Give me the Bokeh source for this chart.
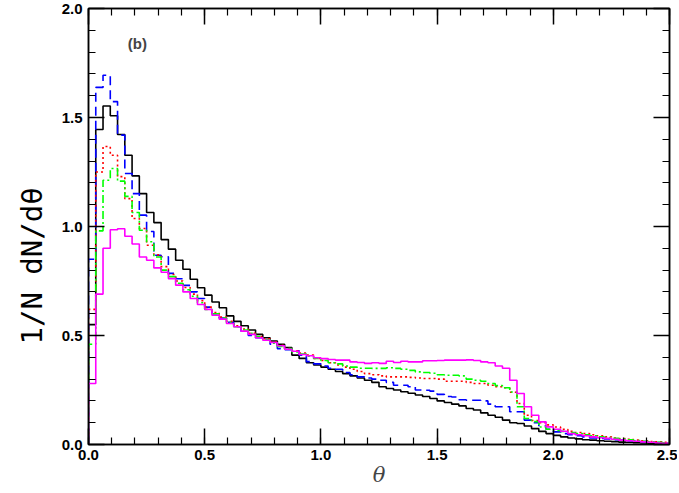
import numpy as np
from bokeh.plotting import figure
from bokeh.models import SingleIntervalTicker, LinearAxis, Label, Title, PrintfTickFormatter, CustomJSTickFormatter
from bokeh.embed import file_html
from bokeh.resources import INLINE

bin_width = 0.03125

black = [0.55, 1.445, 1.553, 1.508, 1.422, 1.327, 1.232, 1.151, 1.064, 1.018,
         0.94, 0.896, 0.845, 0.804, 0.758, 0.719, 0.685, 0.654, 0.627, 0.59,
         0.565, 0.545, 0.525, 0.505, 0.49, 0.475, 0.46, 0.445, 0.41, 0.395,
         0.375, 0.365, 0.355, 0.345, 0.335, 0.325, 0.315, 0.305, 0.295, 0.285,
         0.265, 0.257, 0.25, 0.242, 0.235, 0.227, 0.22, 0.211, 0.2, 0.193,
         0.185, 0.177, 0.165, 0.158, 0.145, 0.134, 0.125, 0.112, 0.1, 0.096,
         0.085, 0.073, 0.06, 0.05, 0.042, 0.035, 0.03, 0.026, 0.022, 0.02,
         0.017, 0.015, 0.013, 0.011, 0.01, 0.008, 0.007, 0.006, 0.005, 0.004]

blue = [0.85, 1.638, 1.694, 1.573, 1.419, 1.243, 1.151, 1.052, 0.977, 0.868,
        0.861, 0.785, 0.76, 0.73, 0.7, 0.67, 0.63, 0.6, 0.58, 0.56,
        0.54, 0.52, 0.5, 0.49, 0.48, 0.46, 0.44, 0.435, 0.43, 0.41,
        0.38, 0.37, 0.36, 0.35, 0.345, 0.33, 0.32, 0.31, 0.305, 0.3,
        0.295, 0.285, 0.272, 0.272, 0.265, 0.25, 0.249, 0.245, 0.23, 0.22,
        0.218, 0.205, 0.203, 0.203, 0.2, 0.185, 0.173, 0.173, 0.15, 0.15,
        0.112, 0.1, 0.086, 0.07, 0.058, 0.05, 0.045, 0.04, 0.035, 0.03,
        0.028, 0.025, 0.022, 0.02, 0.017, 0.015, 0.013, 0.011, 0.009, 0.007]

red = [0.62, 1.25, 1.367, 1.327, 1.229, 1.128, 1.037, 0.991, 0.914, 0.87,
       0.816, 0.78, 0.75, 0.72, 0.69, 0.66, 0.63, 0.605, 0.585, 0.565,
       0.545, 0.53, 0.51, 0.495, 0.485, 0.47, 0.455, 0.44, 0.43, 0.42,
       0.41, 0.395, 0.385, 0.375, 0.365, 0.355, 0.345, 0.335, 0.325, 0.32,
       0.315, 0.31, 0.31, 0.31, 0.308, 0.305, 0.303, 0.303, 0.3, 0.29,
       0.29, 0.29, 0.285, 0.28, 0.28, 0.272, 0.265, 0.26, 0.24, 0.188,
       0.134, 0.11, 0.1, 0.09, 0.08, 0.07, 0.06, 0.055, 0.05, 0.045,
       0.04, 0.035, 0.03, 0.027, 0.024, 0.02, 0.017, 0.014, 0.012, 0.01]

green = [0.46, 0.98, 1.212, 1.266, 1.208, 1.138, 1.064, 0.983, 0.93, 0.86,
         0.8, 0.77, 0.74, 0.71, 0.68, 0.65, 0.62, 0.6, 0.58, 0.56,
         0.54, 0.525, 0.51, 0.495, 0.48, 0.465, 0.45, 0.44, 0.425, 0.415,
         0.405, 0.395, 0.385, 0.375, 0.37, 0.36, 0.355, 0.35, 0.35, 0.349,
         0.349, 0.352, 0.349, 0.345, 0.34, 0.333, 0.33, 0.327, 0.32, 0.318,
         0.318, 0.315, 0.3, 0.295, 0.29, 0.28, 0.27, 0.26, 0.241, 0.173,
         0.119, 0.105, 0.08, 0.07, 0.065, 0.06, 0.055, 0.05, 0.045, 0.04,
         0.035, 0.032, 0.028, 0.025, 0.022, 0.018, 0.015, 0.012, 0.01, 0.008]

magenta = [0.28, 0.69, 0.90, 0.985, 0.99, 0.955, 0.92, 0.86, 0.845, 0.81,
           0.79, 0.761, 0.731, 0.70, 0.67, 0.642, 0.62, 0.593, 0.575, 0.555,
           0.54, 0.52, 0.505, 0.49, 0.478, 0.468, 0.453, 0.437, 0.428, 0.413,
           0.407, 0.398, 0.394, 0.39, 0.387, 0.387, 0.379, 0.376, 0.372, 0.375,
           0.372, 0.382, 0.376, 0.382, 0.379, 0.379, 0.384, 0.384, 0.385, 0.387,
           0.387, 0.387, 0.388, 0.385, 0.379, 0.375, 0.36, 0.35, 0.295, 0.234,
           0.173, 0.134, 0.104, 0.081, 0.07, 0.061, 0.05, 0.045, 0.04, 0.035,
           0.031, 0.028, 0.024, 0.02, 0.017, 0.015, 0.012, 0.01, 0.007, 0.005]


def step_xy(vals):
    edges = np.arange(len(vals) + 1) * bin_width
    xs = [0.0]
    ys = [0.0]
    for i, v in enumerate(vals):
        xs += [edges[i], edges[i + 1]]
        ys += [v, v]
    return xs, ys


p = figure(width=677, height=489, x_range=(0, 2.5), y_range=(0, 2.0),
           output_backend="svg", toolbar_location=None,
           min_border_left=88, min_border_right=8,
           min_border_top=8, min_border_bottom=44)

p.grid.visible = False
p.background_fill_color = "white"
p.border_fill_color = "white"
p.outline_line_color = "black"
p.outline_line_width = 1.5

series = [
    (black, "black", "solid"),
    (blue, "#0000ff", "9 5"),
    (red, "#ff0000", "2 3"),
    (green, "#00ff00", "8 3 2 3"),
    (magenta, "#ff00ff", "solid"),
]
for vals, col, dash in series:
    xs, ys = step_xy(vals)
    p.line(xs, ys, line_color=col, line_width=1.6, line_dash=dash)

label_font = "Liberation Sans"

for ax in (p.xaxis[0], p.yaxis[0]):
    ax.ticker = SingleIntervalTicker(interval=0.5, num_minor_ticks=5)
    ax.formatter = PrintfTickFormatter(format="%.1f")
    ax.major_tick_in = 16
    ax.major_tick_out = 0
    ax.minor_tick_in = 7
    ax.minor_tick_out = 0
    ax.axis_line_width = 1.5
    ax.major_tick_line_width = 1.5
    ax.minor_tick_line_width = 1.2
    ax.major_label_text_font = label_font
    ax.major_label_text_font_style = "bold"
    ax.major_label_text_font_size = "15px"
    ax.major_label_text_color = "black"

p.xaxis[0].major_label_standoff = 5
p.yaxis[0].major_label_standoff = 6

p.xaxis[0].axis_label = "θ"
p.xaxis[0].axis_label_text_font = "DejaVu Serif"
p.xaxis[0].axis_label_text_font_style = "italic"
p.xaxis[0].axis_label_text_font_size = "21px"
p.xaxis[0].axis_label_standoff = 0

for loc in ("right", "above"):
    ax = LinearAxis(ticker=SingleIntervalTicker(interval=0.5, num_minor_ticks=5),
                    formatter=CustomJSTickFormatter(code="return '';"))
    ax.major_tick_in = 16
    ax.major_tick_out = 0
    ax.minor_tick_in = 7
    ax.minor_tick_out = 0
    ax.axis_line_width = 1.5
    ax.major_tick_line_width = 1.5
    ax.minor_tick_line_width = 1.2
    ax.major_label_standoff = 0
    ax.major_label_text_font_size = "1px"
    p.add_layout(ax, loc)

# y-axis title as a left-side title, shifted a little below the frame centre
ytitle = Title(text="1/N dN/dθ", align="left", offset=100, standoff=20,
               text_font="DejaVu Sans Mono", text_font_size="29px",
               text_font_style="normal", text_color="black")
p.add_layout(ytitle, "left")

p.add_layout(Label(x=0.21, y=1.84, text="(b)", text_font=label_font,
                   text_font_style="bold", text_font_size="15px",
                   text_align="center", text_baseline="middle"))

open("out.html", "w").write(file_html(p, INLINE))
